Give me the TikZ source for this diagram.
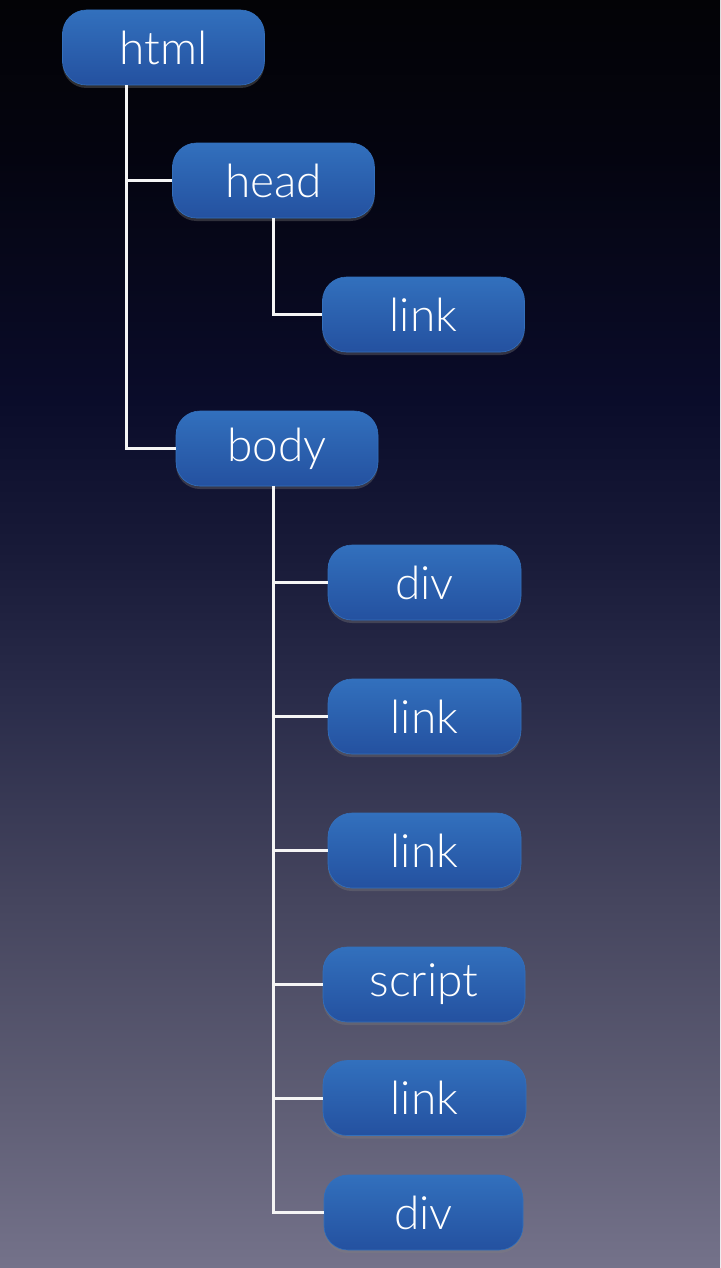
\documentclass[tikz,border=0pt]{standalone}
\usepackage{fontspec}
\setmainfont{Lato}[UprightFont={* Light}]
\usepackage{xcolor}
\usetikzlibrary{shadows}
\definecolor{bgtop}{HTML}{030306}
\definecolor{bgdark}{HTML}{04040F}
\definecolor{bgnavy}{HTML}{0A0C2A}
\definecolor{bgmid}{HTML}{181A38}
\definecolor{bgslate}{HTML}{2A2C4A}
\definecolor{bggrey}{HTML}{45455E}
\definecolor{bglight}{HTML}{5E5D74}
\definecolor{bgbottom}{HTML}{74728A}
\definecolor{tagtop}{HTML}{3270BD}
\definecolor{tagbottom}{HTML}{2451A0}
\definecolor{tagrim}{HTML}{3370BC}
\pgfdeclareverticalshading{pagefade}{100bp}{color(0bp)=(bgbottom); color(25bp)=(bgbottom); color(31.62bp)=(bglight); color(39.51bp)=(bggrey); color(47.4bp)=(bgslate); color(53.31bp)=(bgmid); color(59.23bp)=(bgnavy); color(69.09bp)=(bgdark); color(75bp)=(bgtop); color(100bp)=(bgtop)}
\begin{document}
\begin{tikzpicture}[x=0.5pt,y=-0.5pt]

\tikzset{tag/.style={rectangle,rounded corners=12pt,minimum width=101pt,minimum height=37.5pt,
            top color=tagtop,bottom color=tagbottom,draw=tagrim,line width=0.3pt,
            drop shadow={opacity=0.35,shadow xshift=0pt,shadow yshift=-1.5pt},
            text=white,font=\fontsize{23}{27}\selectfont},
        wire/.style={draw=white!92!gray,line width=1.5pt}}

\useasboundingbox (0,0) rectangle (720,1268);
\fill[shading=pagefade] (0,0) rectangle (720,1268);

\coordinate (trunk) at (126,0);
\coordinate (branch) at (273,0);

\node[tag] (html) at (163.5,47.5) {html};
\node[tag] (head) at (273.5,180.5) {head};
\node[tag] (linka) at (423.5,314.5) {link};
\node[tag] (body) at (277,448.5) {body};
\node[tag,minimum width=96.5pt] (diva) at (424.5,582.5) {div};
\node[tag,minimum width=96.5pt] (linkb) at (424.5,716.5) {link};
\node[tag,minimum width=96.5pt] (linkc) at (424.5,850.5) {link};
\node[tag,minimum width=101pt] (scrpt) at (424,984.5) {script};
\node[tag,minimum width=101.5pt] (linkd) at (424.5,1098) {link};
\node[tag,minimum width=99.5pt] (divb) at (423.5,1212.5) {div};

\draw[wire] (html.south -| trunk) |- (body.west);
\draw[wire] (trunk |- head) -- (head.west);
\draw[wire] (head.south -| branch) |- (linka.west);
\draw[wire] (body.south -| branch) |- (divb.west);
\foreach \n in {diva,linkb,linkc,scrpt,linkd}
    \draw[wire] (branch |- \n) -- (\n.west);

\end{tikzpicture}
\end{document}
